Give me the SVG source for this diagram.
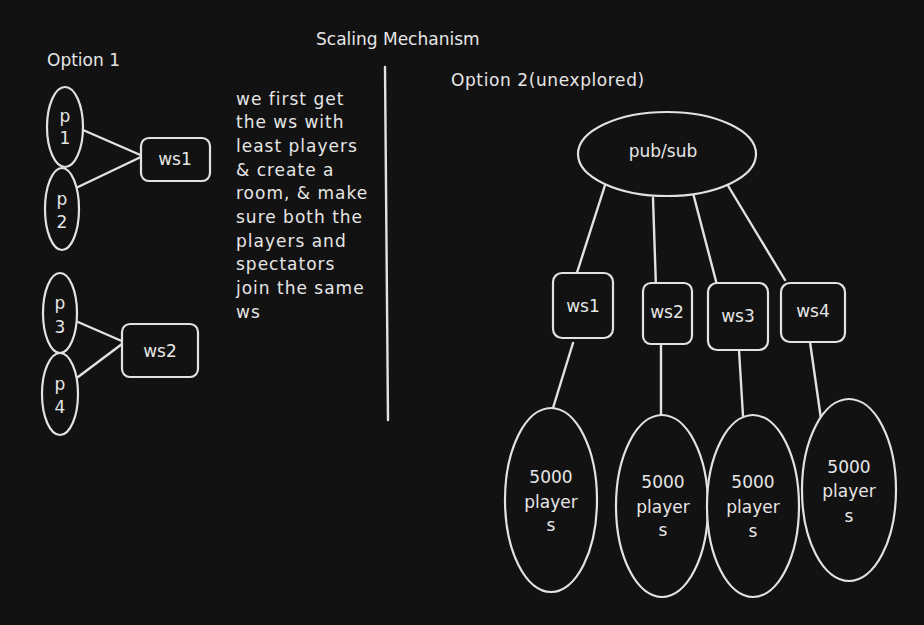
<svg xmlns="http://www.w3.org/2000/svg" width="924" height="625" viewBox="0 0 924 625">
<style>
.bg{fill:#121212}
.s{fill:none;stroke:#e2e2e2;stroke-width:2.4;stroke-linecap:round;stroke-linejoin:round}
.n{fill:#121212;stroke:#e2e2e2;stroke-width:2.2}
text{font-family:"DejaVu Sans","Liberation Sans",sans-serif;font-size:17px;fill:#e6e6e6}
.c{text-anchor:middle}
.body{letter-spacing:1px}
</style>
<rect class="bg" x="0" y="0" width="924" height="625"/>

<text x="316" y="45">Scaling Mechanism</text>
<text x="47" y="66">Option 1</text>
<text x="451" y="86" letter-spacing="0.6">Option 2(unexplored)</text>

<g id="note" class="body">
<text x="236" y="105">we first get</text>
<text x="236" y="128">the ws with</text>
<text x="236" y="152">least players</text>
<text x="236" y="176">&amp; create a</text>
<text x="236" y="199">room, &amp; make</text>
<text x="236" y="223">sure both the</text>
<text x="236" y="247">players and</text>
<text x="236" y="270">spectators</text>
<text x="236" y="294">join the same</text>
<text x="236" y="318">ws</text>
</g>

<g id="connectors" class="s">
<line x1="83" y1="130" x2="145" y2="157"/>
<line x1="78" y1="187" x2="143" y2="156"/>
<line x1="78" y1="322" x2="124" y2="342"/>
<line x1="78" y1="377" x2="122" y2="344"/>
<line x1="385" y1="67" x2="388" y2="420"/>
<line x1="607" y1="179" x2="574" y2="282"/>
<line x1="653" y1="198" x2="656" y2="288"/>
<line x1="693" y1="193" x2="717" y2="285"/>
<line x1="727" y1="184" x2="785" y2="280"/>
<line x1="573" y1="343" x2="553" y2="408"/>
<line x1="661" y1="344" x2="661" y2="415"/>
<line x1="739" y1="350" x2="743" y2="416"/>
<line x1="810" y1="342" x2="821" y2="419"/>
</g>

<g id="p1"><ellipse class="n" cx="65" cy="127" rx="18" ry="40"/><text class="c" x="65" y="122">p</text><text class="c" x="65" y="144">1</text></g>
<g id="p2"><ellipse class="n" cx="62" cy="209" rx="17" ry="41"/><text class="c" x="62" y="205">p</text><text class="c" x="62" y="228">2</text></g>
<g id="ws1a"><rect class="n" x="141" y="138" width="69" height="43" rx="8"/><text class="c" x="175" y="165">ws1</text></g>

<g id="p3"><ellipse class="n" cx="60" cy="313" rx="17" ry="40"/><text class="c" x="60" y="309">p</text><text class="c" x="60" y="333">3</text></g>
<g id="p4"><ellipse class="n" cx="60" cy="394" rx="18" ry="41"/><text class="c" x="60" y="390">p</text><text class="c" x="60" y="413">4</text></g>
<g id="ws2a"><rect class="n" x="122" y="324" width="76" height="53" rx="8"/><text class="c" x="160" y="357">ws2</text></g>

<g id="pubsub"><ellipse class="n" cx="667" cy="154" rx="89" ry="42"/><text class="c" x="663" y="157">pub/sub</text></g>
<g id="ws1"><rect class="n" x="553" y="273" width="60" height="65" rx="9"/><text class="c" x="583" y="312">ws1</text></g>
<g id="ws2"><rect class="n" x="643" y="283" width="49" height="61" rx="8"/><text class="c" x="667" y="318">ws2</text></g>
<g id="ws3"><rect class="n" x="708" y="283" width="60" height="67" rx="9"/><text class="c" x="738" y="322">ws3</text></g>
<g id="ws4"><rect class="n" x="781" y="283" width="64" height="59" rx="9"/><text class="c" x="813" y="317">ws4</text></g>

<g id="e1"><ellipse class="n" cx="551" cy="500" rx="46" ry="92"/><text class="c" x="551" y="483">5000</text><text class="c" x="551" y="508">player</text><text class="c" x="551" y="531">s</text></g>
<g id="e2"><ellipse class="n" cx="662" cy="506" rx="46" ry="91"/><text class="c" x="663" y="488">5000</text><text class="c" x="663" y="513">player</text><text class="c" x="663" y="536">s</text></g>
<g id="e3"><ellipse class="n" cx="753" cy="506" rx="46" ry="91"/><text class="c" x="753" y="488">5000</text><text class="c" x="753" y="513">player</text><text class="c" x="753" y="537">s</text></g>
<g id="e4"><ellipse class="n" cx="849" cy="490" rx="47" ry="91"/><text class="c" x="849" y="473">5000</text><text class="c" x="849" y="497">player</text><text class="c" x="849" y="522">s</text></g>
</svg>
